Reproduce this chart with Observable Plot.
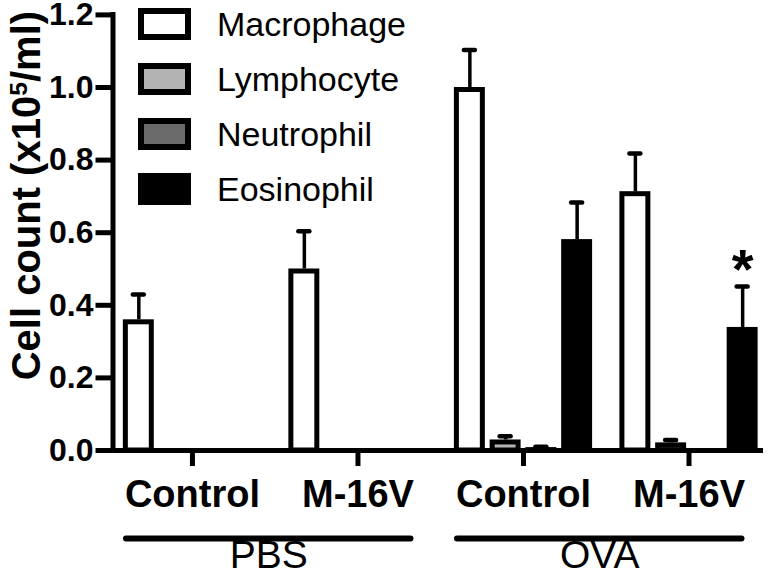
<!DOCTYPE html>
<html><head><meta charset="utf-8">
<script src="https://cdn.jsdelivr.net/npm/d3@7"></script>
<script src="https://cdn.jsdelivr.net/npm/@observablehq/plot@0.6"></script>
<style>
html,body{margin:0;padding:0;background:#fff;}
#chart{position:relative;width:768px;height:572px;font-family:"Liberation Sans",Arial,sans-serif;}
#legend{position:absolute;left:138px;top:-4px;}
.item{display:flex;align-items:center;height:55px;}
.item .sw{width:53px;height:32px;box-sizing:border-box;border:6px solid #000;}
.item span{margin-left:26px;font-size:34px;line-height:1;color:#000;}
</style></head><body><div id="chart"><div id="legend"></div></div>
<script>
// ---- data ----
const groups = ["PBS Control", "PBS M-16V", "OVA Control", "OVA M-16V"];
const groupLabels = ["Control", "M-16V", "Control", "M-16V"];
const treatments = ["PBS", "OVA"];
const treatmentGroups = [[0, 1], [2, 3]];
const cellTypes = ["Macrophage", "Lymphocyte", "Neutrophil", "Eosinophil"];
const fills = ["#ffffff", "#b3b3b3", "#6b6b6b", "#000000"];
const macrophage = [0.36, 0.50, 1.00, 0.713];
const macrophageSEM = [0.07, 0.104, 0.103, 0.105];
const lymphocyte = [0, 0, 0.029, 0.021];
const lymphocyteSEM = [0, 0, 0.010, 0.008];
const neutrophil = [0, 0, 0.008, 0.002];
const neutrophilSEM = [0, 0, 0.002, 0];
const eosinophil = [0, 0, 0.581, 0.339];
const eosinophilSEM = [0, 0, 0.102, 0.113];
const eosinophilSig = ["", "", "", "*"];
const yTicks = [0, 0.2, 0.4, 0.6, 0.8, 1.0, 1.2];
const yTitle = "Cell count (x10⁵/ml)";

// ---- build ----
const means = [macrophage, lymphocyte, neutrophil, eosinophil];
const sems = [macrophageSEM, lymphocyteSEM, neutrophilSEM, eosinophilSEM];
const sigs = [null, null, null, eosinophilSig];
const pitch = 0.216, barHalf = 0.0935;
const rows = [];
cellTypes.forEach((type, t) => {
  groups.forEach((g, i) => {
    rows.push({group: g, type, center: i + (t - 1.5) * pitch,
      value: means[t][i], sem: sems[t][i], sig: sigs[t] ? sigs[t][i] : ""});
  });
});
const bars = rows.filter(d => d.value > 0);
const errs = rows.filter(d => d.sem > 0);
const stars = rows.filter(d => d.sig);
const xDomain = [-0.48, 3.45];
const xmin = xDomain[0];
const groupIdx = groups.map((g, i) => i);
const spans = treatments.map((name, k) => ({name, first: treatmentGroups[k][0], last: treatmentGroups[k][1]}));

const plot = Plot.plot({
  width: 768, height: 572,
  marginLeft: 112.5, marginRight: 5, marginTop: 14.4, marginBottom: 122,
  style: {fontFamily: "'Liberation Sans', Arial, sans-serif", background: "#fff"},
  x: {domain: xDomain, axis: null},
  y: {domain: [0, 1.2], axis: null},
  color: {domain: cellTypes, range: fills},
  marks: [
    Plot.rect(bars, {x1: d => d.center - barHalf, x2: d => d.center + barHalf, y1: 0, y2: "value",
      fill: "type", stroke: "#000", strokeWidth: 5, insetLeft: 2.5, insetRight: 2.5, insetTop: 2.5}),
    Plot.ruleX(errs, {x: "center", y1: "value", y2: d => d.value + d.sem, stroke: "#000", strokeWidth: 3.5}),
    Plot.ruleY(errs, {y: d => d.value + d.sem, x1: "center", x2: "center", insetLeft: -5.5, insetRight: -5.5,
      stroke: "#000", strokeWidth: 4.5, strokeLinecap: "round"}),
    Plot.text(stars, {x: "center", y: d => d.value + d.sem, text: "sig", dy: -16, fontSize: 56, fontWeight: "bold"}),
    // y axis
    Plot.ruleX([xmin], {y1: 0, y2: 1.2, stroke: "#000", strokeWidth: 5, strokeLinecap: "square"}),
    Plot.ruleY(yTicks, {y: d => d, x1: xmin, x2: xmin, insetLeft: -17, stroke: "#000", strokeWidth: 5}),
    Plot.text(yTicks, {x: xmin, y: d => d, text: d => d.toFixed(1), textAnchor: "end", dx: -19.5,
      fontSize: 32, fontWeight: "bold"}),
    Plot.text([yTitle], {x: xmin, y: 1.2, text: d => d, rotate: -90, textAnchor: "end", dx: -85.5, dy: -4,
      fontSize: 40, fontWeight: "bold"}),
    // x axis
    Plot.ruleY([0], {stroke: "#000", strokeWidth: 5}),
    Plot.ruleX(groupIdx, {x: d => d, y1: 0, y2: 0, insetBottom: -16, stroke: "#000", strokeWidth: 5}),
    Plot.text(groupIdx, {x: d => d, y: 0, text: i => groupLabels[i], dy: 44, fontSize: 38, fontWeight: "bold"}),
    Plot.ruleY(spans, {y: 0, x1: "first", x2: "last", insetLeft: -66, insetRight: -53, dy: 88,
      stroke: "#000", strokeWidth: 6, strokeLinecap: "round"}),
    Plot.text(spans, {x: d => (d.first + d.last) / 2, y: 0, text: "name", dy: 105, dx: -6.5, fontSize: 39})
  ]
});

// superscript in y title
d3.select(plot).selectAll("text").filter(function() { return this.textContent === yTitle; })
  .each(function() {
    const t = d3.select(this);
    t.text("");
    t.append("tspan").text("Cell count (x10");
    t.append("tspan").attr("font-size", "0.62em").attr("dy", "-0.55em").text("5");
    t.append("tspan").attr("dy", "0.34em").text("/ml)");
  });

const chart = document.getElementById("chart");
chart.insertBefore(plot, chart.firstChild);

const legend = d3.select("#legend");
cellTypes.forEach((c, i) => {
  const it = legend.append("div").attr("class", "item");
  it.append("div").attr("class", "sw").style("background", fills[i]);
  it.append("span").text(c);
});
</script></body></html>
